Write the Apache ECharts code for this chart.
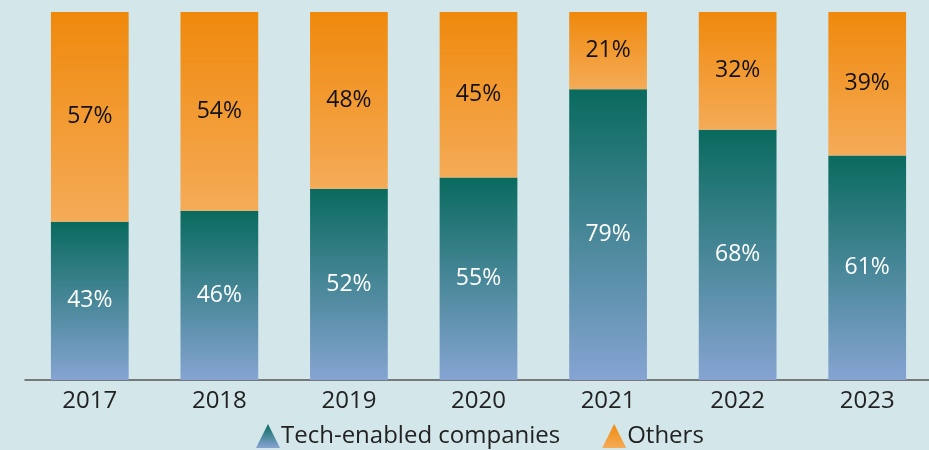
<!DOCTYPE html>
<html>
<head>
<meta charset="utf-8">
<script src="https://cdn.jsdelivr.net/npm/echarts@6/dist/echarts.min.js"></script>
<style>
  html, body { margin: 0; padding: 0; background: #d3e6ea; }
  #main { width: 929px; height: 450px; }
</style>
</head>
<body>
<div id="main"></div>
<script>
var years = ["2017", "2018", "2019", "2020", "2021", "2022", "2023"];
var techShare = [43, 46, 52, 55, 79, 68, 61];
var otherShare = [57, 54, 48, 45, 21, 32, 39];

var tealGrad = new echarts.graphic.LinearGradient(0, 0, 0, 1, [
  { offset: 0, color: "#096a5e" },
  { offset: 1, color: "#86a4d2" }
]);
var orangeGrad = new echarts.graphic.LinearGradient(0, 0, 0, 1, [
  { offset: 0, color: "#ef890c" },
  { offset: 1, color: "#f5ab57" }
]);

var myChart = echarts.init(document.getElementById("main"));
var option = {
  backgroundColor: "#d3e6ea",
  animation: false,
  textStyle: { fontFamily: "Open Sans" },
  grid: { left: 25, right: -3, top: 12, bottom: 70, outerBoundsMode: "none" },
  legend: {
    bottom: -3,
    left: 251,
    itemWidth: 24,
    itemHeight: 24,
    itemGap: 42,
    icon: "path://M10,0 L20,20 L0,20 Z",
    textStyle: { fontSize: 24, color: "#222", fontFamily: "Open Sans", padding: [0, 0, 0, -4] },
    data: ["Tech-enabled companies", "Others"]
  },
  xAxis: {
    type: "category",
    data: years,
    axisLine: { lineStyle: { color: "#555", width: 1.5 } },
    axisTick: { show: false },
    axisLabel: { fontSize: 24, color: "#222", margin: 9 }
  },
  yAxis: {
    type: "value",
    min: 0,
    max: 100,
    show: false,
    splitLine: { show: false }
  },
  series: [
    {
      name: "Tech-enabled companies",
      type: "bar",
      stack: "total",
      barWidth: "60%",
      data: techShare,
      itemStyle: { color: tealGrad },
      label: {
        show: true,
        position: "inside",
        formatter: "{c}%",
        fontSize: 23,
        color: "#fff"
      }
    },
    {
      name: "Others",
      type: "bar",
      stack: "total",
      barWidth: "60%",
      data: otherShare,
      itemStyle: { color: orangeGrad },
      label: {
        show: true,
        position: "inside",
        formatter: "{c}%",
        fontSize: 23,
        color: "#111"
      }
    }
  ]
};
myChart.setOption(option);
</script>
</body>
</html>
